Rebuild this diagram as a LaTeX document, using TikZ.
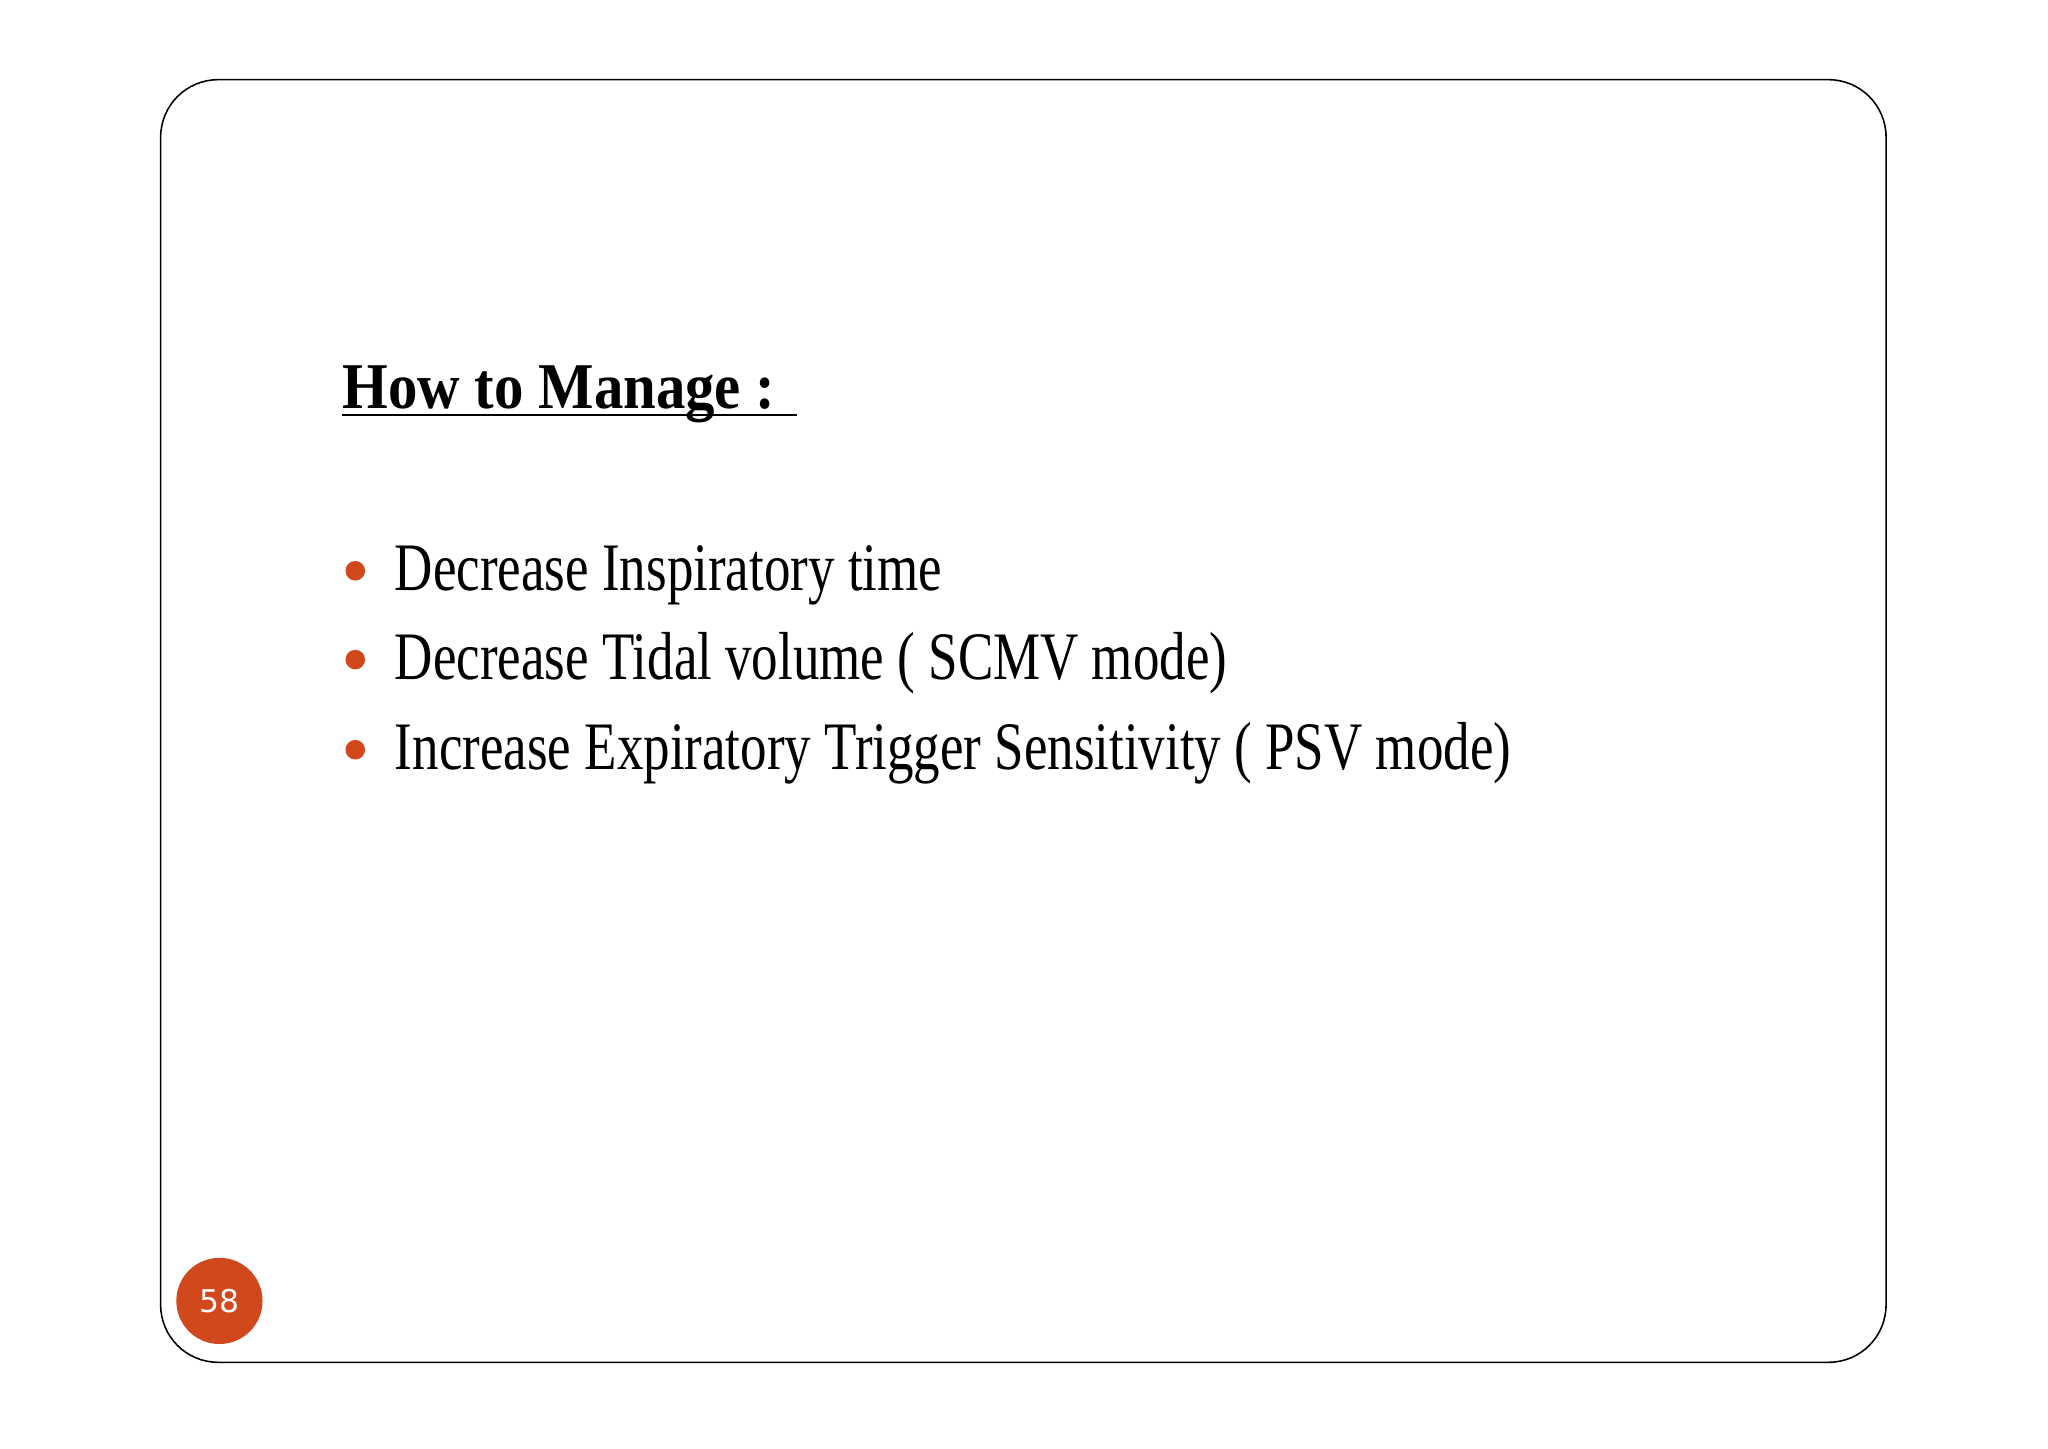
\documentclass[tikz,border=0pt]{standalone}
\usepackage{fontspec}
\setmainfont{Liberation Serif}
\setsansfont{DejaVu Sans}
\usepackage{graphicx}
\definecolor{acc}{HTML}{D0481C}
\tikzset{bul/.style={fill=acc,circle,inner sep=0pt,minimum size=7.5pt},
 itm/.style={anchor=base west,inner sep=0pt,font=\fontsize{26}{30}\selectfont}}
\begin{document}
\begin{tikzpicture}[x=0.5pt,y=-0.5pt]
\useasboundingbox (0,0) rectangle (1568,1109);
\draw[line width=0.6pt,rounded corners=22pt] (123,61) rectangle (1444,1043);
\node[anchor=base west,inner sep=0pt,font=\bfseries\fontsize{25}{30}\selectfont] (t) at (262,313) {\scalebox{0.9}[1]{How to Manage :}};
\draw[line width=0.8pt] (262,318) -- (610,318);
\node[bul] (b1) at (272,437) {};
\node[bul] (b2) at (272,505) {};
\node[bul] (b3) at (272,574) {};
\node[itm] (i1) at (302,452) {\scalebox{0.78}[1]{Decrease Inspiratory time}};
\node[itm] (i2) at (302,520) {\scalebox{0.78}[1]{Decrease Tidal volume ( SCMV mode)}};
\node[itm] (i3) at (302,589) {\scalebox{0.78}[1]{Increase Expiratory Trigger Sensitivity ( PSV mode)}};
\node[fill=acc,circle,minimum size=33pt,inner sep=0pt,text=white,font=\sffamily\fontsize{12}{14}\selectfont] (pg) at (168,996) {58};
\end{tikzpicture}
\end{document}
